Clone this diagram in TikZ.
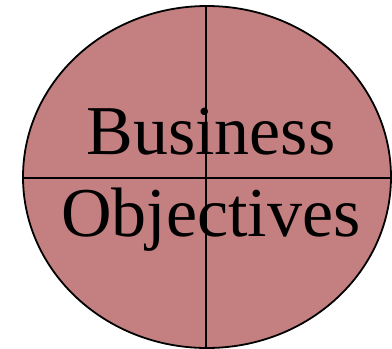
\documentclass[tikz,border=0pt]{standalone}
\usepackage{fontspec}
\setmainfont{Liberation Serif}
\usepackage{tikz}
\usepackage{xcolor}
\definecolor{rosefill}{RGB}{196,128,128}

\begin{document}
\begin{tikzpicture}[x=1pt,y=-1pt]
	\tikzstyle{edge} = [draw=black, line width=1.6pt]
	\tikzstyle{word} = [inner sep=0pt, anchor=base, font=\fontsize{70}{82}\selectfont]
	\useasboundingbox (0,0) rectangle (392,349);
	\filldraw [fill=rosefill, draw=black, line width=1.8pt]
			(207,177) ellipse (184 and 171);
		\coordinate (top) at (206,6);
		\coordinate (bottom) at (206,349);
		\coordinate (left) at (23,178);
		\coordinate (right) at (391,178);
	\draw [edge] (top) -- (bottom);
	\draw [edge] (left) -- (right);
		\node[word] (business) at (211,154) {Business};
		\node[word] (objectives) at (211,236) {Objectives};
	\end{tikzpicture}
\end{document}
